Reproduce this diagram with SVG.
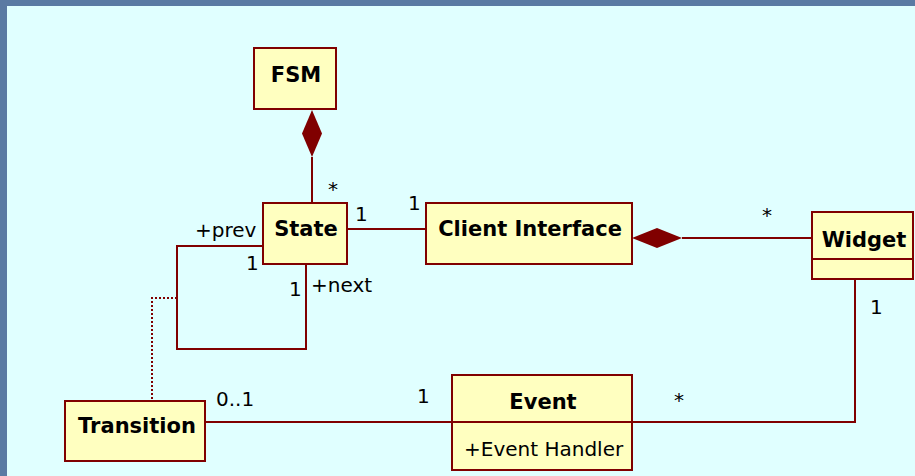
<svg xmlns="http://www.w3.org/2000/svg" width="915" height="476" viewBox="0 0 915 476">
<style>
.box{fill:#FFFFC0;stroke:#800000;stroke-width:2}
.ln{fill:none;stroke:#800000;stroke-width:2}
.dot{fill:none;stroke:#800000;stroke-width:2;stroke-dasharray:2,2}
.dia{fill:#800000;stroke:none}
.t{font-family:"DejaVu Sans",Verdana,sans-serif;font-size:21px;font-weight:bold;fill:#000;text-anchor:middle}
.l{font-family:"DejaVu Sans",Verdana,sans-serif;font-size:20px;fill:#000}
</style>
<rect x="0" y="0" width="915" height="476" fill="#5A7AA3"/>
<rect x="7" y="6" width="908" height="470" fill="#E0FFFF"/>
<g id="connectors">
<path class="ln" d="M312,157 V203"/>
<polygon class="dia" points="312,110 322,133.5 312,157 302,133.5"/>
<path class="ln" d="M347,229 H426"/>
<path class="ln" d="M682,238 H812"/>
<polygon class="dia" points="632,238 657,228 682,238 657,248"/>
<path class="ln" d="M263,246 H177 V349 H306 V264"/>
<path class="dot" d="M177,298 H152 V401"/>
<path class="ln" d="M205,422 H452"/>
<path class="ln" d="M632,422 H855 V279"/>
<text class="l" x="328" y="196">*</text>
<text class="l" x="355" y="221">1</text>
<text class="l" x="408" y="210">1</text>
<text class="l" x="762" y="222">*</text>
<text class="l" x="195" y="237">+prev</text>
<text class="l" x="246" y="270">1</text>
<text class="l" x="289" y="296">1</text>
<text class="l" x="311" y="292">+next</text>
<text class="l" x="870" y="314">1</text>
<text class="l" x="216" y="406">0..1</text>
<text class="l" x="417" y="403">1</text>
<text class="l" x="674" y="407">*</text>
</g>
<g id="FSM">
<rect class="box" x="254" y="48" width="82" height="61"/>
<text class="t" x="296" y="82">FSM</text>
</g>
<g id="State">
<rect class="box" x="263" y="203" width="84" height="61"/>
<text class="t" x="306" y="236">State</text>
</g>
<g id="ClientInterface">
<rect class="box" x="426" y="203" width="206" height="61"/>
<text class="t" x="530" y="236">Client Interface</text>
</g>
<g id="Widget">
<rect class="box" x="812" y="212" width="101" height="67"/>
<path class="ln" d="M812,259 H913"/>
<text class="t" x="864" y="247">Widget</text>
</g>
<g id="Transition">
<rect class="box" x="65" y="401" width="140" height="60"/>
<text class="t" x="137" y="433">Transition</text>
</g>
<g id="Event">
<rect class="box" x="452" y="375" width="180" height="95"/>
<path class="ln" d="M452,422 H632"/>
<text class="t" x="543" y="409">Event</text>
<text class="l" x="464" y="456">+Event Handler</text>
</g>
</svg>
